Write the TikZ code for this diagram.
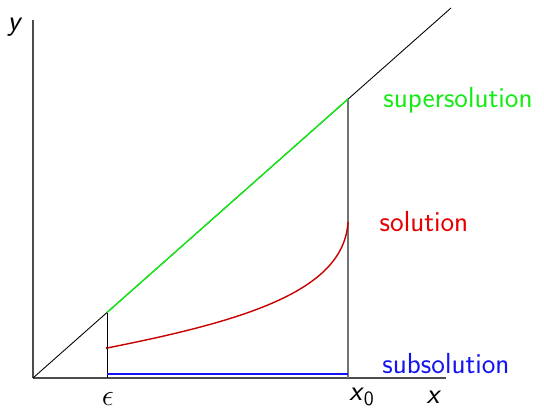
\documentclass[tikz,border=0pt]{standalone}
\usepackage{xcolor}
\usepackage{tikz}
\usetikzlibrary{calc}

\definecolor{supgreen}{RGB}{20,235,20}
\definecolor{solred}{RGB}{200,0,0}
\definecolor{txtred}{RGB}{230,0,0}
\definecolor{subblue}{RGB}{20,20,240}

\begin{document}
\begin{tikzpicture}[x=0.02cm, y=0.02cm, font=\fontsize{16.5}{19}\selectfont\sffamily, every node/.style={inner sep=0pt}]
        \tikzset{
            ax/.style={line width=0.7pt, black!70},
            thin line/.style={line width=0.5pt},
            lbl/.style={anchor=center}
        }
        \useasboundingbox (-33,-33) rectangle (511,378);
        % axes
        \coordinate (o) at (0,0);
        \coordinate (ytop) at (0,358);
        \coordinate (xend) at (413,0);
        \draw[ax] (o) -- (ytop);
        \draw[ax] (o) -- (xend);
        % diagonal
        \coordinate (diag) at (418,370);
        \draw[thin line] (o) -- (diag);
        % epsilon and x0
        \coordinate (epsbot) at (74,0);
        \coordinate (epstop) at (74,65.5);
        \coordinate (xzbot) at (315,0);
        \coordinate (xztop) at (315,279);
        \draw[thin line] (epsbot) -- (epstop);
        \draw[line width=0.9pt, black!55] (xzbot) -- (xztop);
        % supersolution
        \draw[supgreen, line width=0.8pt] (epstop) -- (xztop);
        % solution
        \coordinate (solstart) at (74,30);
        \coordinate (solend) at (315,156);
        \draw[solred, line width=0.8pt] (solstart) .. controls (216,58) and (311,88) .. (solend);
        \fill[solred!70!black] (solstart) circle (1.3);
        % subsolution
        \coordinate (subl) at (74,4);
        \coordinate (subr) at (315,4);
        \draw[subblue, line width=0.8pt] (subl) -- (subr);
        % labels
        \node[lbl, supgreen] (lsup) at (425,278) {supersolution};
        \node[lbl, txtred] (lsol) at (391,156) {solution};
        \node[lbl, subblue] (lsub) at (413,14) {subsolution};
        \node[lbl] (lxz) at (329,-19) {\textit{x}\textsubscript{0}};
        \node[lbl] (lx) at (401,-19) {\textit{x}};
        \node[lbl] (leps) at (75,-21) {$\epsilon$};
        \node[lbl] (ly) at (-18,351) {\textit{y}};
\end{tikzpicture}
\end{document}
